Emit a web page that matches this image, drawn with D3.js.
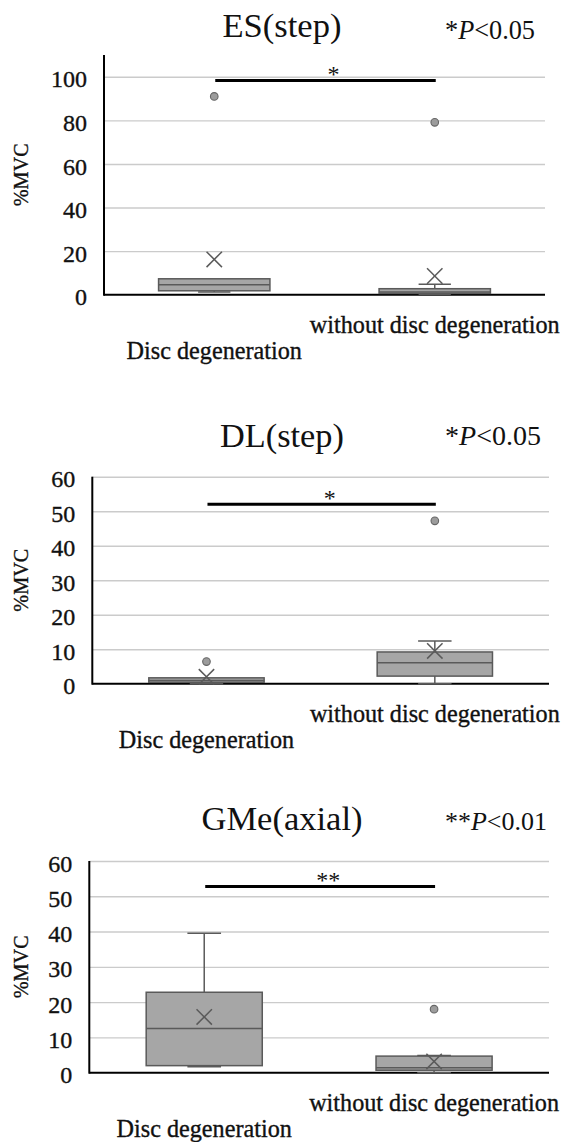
<!DOCTYPE html>
<html>
<head>
<meta charset="utf-8">
<script src="https://cdn.jsdelivr.net/npm/d3@7"></script>
<style>
  html, body { margin: 0; padding: 0; background: #fff; }
  svg { display: block; }
</style>
</head>
<body>
<svg id="chart" width="565" height="1142"></svg>
<script>
// ---------------- DATA ----------------
const categories = ["Disc degeneration", "without disc degeneration"];
const panelTitles = ["ES(step)", "DL(step)", "GMe(axial)"];
const pStars = ["*", "*", "**"];
const pThresholds = ["<0.05", "<0.05", "<0.01"];
const sigMarks = ["*", "*", "**"];
const sigLevels = [98.3, 52, 52.8];
const yMaxes = [110, 60, 60];
const yTicks = [
  [0, 20, 40, 60, 80, 100],
  [0, 10, 20, 30, 40, 50, 60],
  [0, 10, 20, 30, 40, 50, 60]
];
const yLabel = "%MVC";

// box statistics per panel: [Disc degeneration, without disc degeneration]
const mins     = [[1.2, 0.2], [0, 0], [1.7, 0]];
const q1s      = [[1.8, 0.6], [0.4, 2.2], [2.0, 0.7]];
const medians  = [[4.6, 1.2], [0.9, 6.1], [12.5, 1.4]];
const q3s      = [[7.3, 2.75], [1.7, 9.2], [22.8, 4.7]];
const maxs     = [[7.3, 4.8], [1.7, 12.4], [39.5, 4.9]];
const means    = [[16.2, 8.6], [2.0, 9.5], [15.8, 3.2]];
const outliers = [[[91], [79.1]], [[6.4], [47.2]], [[], [18.0]]];

// ---------------- LAYOUT ----------------
const layout = [
  { top: 55,    bottom: 294.7,  left: 104,  right: 545, titleY: 36.5, pY: 39.3, titleW: 119, pW: 90 },
  { top: 476.7, bottom: 683.7,  left: 92.3, right: 549, titleY: 447,  pY: 445,  titleW: 124, pW: 96 },
  { top: 861,   bottom: 1072.7, left: 89.3, right: 549, titleY: 830,  pY: 830,  titleW: 161, pW: 102 }
];
const serif = "'Liberation Serif', 'Times New Roman', 'DejaVu Serif', serif";
const boxFill = "#a6a6a6", boxStroke = "#5a5a5a";

const svg = d3.select("#chart");

// scale a text's font size so that its rendered width matches a target width
function fitWidth(sel, target, base) {
  sel.attr("font-size", base);
  const w = sel.node().getComputedTextLength();
  if (w > 0) sel.attr("font-size", base * target / w);
  return +sel.attr("font-size");
}
const probe = svg.append("text").attr("font-family", serif).attr("font-size", 24).text("100");
const tickSize = fitWidth(probe, 36, 24);
probe.text("without disc degeneration");
const catSize = fitWidth(probe, 250, 24);
probe.text(yLabel);
const ySize = fitWidth(probe, 63, 21);
probe.remove();

layout.forEach((L, pi) => {
  const g = svg.append("g");
  const x = d3.scalePoint().domain(categories).range([L.left, L.right]).padding(0.5);
  const y = d3.scaleLinear().domain([0, yMaxes[pi]]).range([L.bottom, L.top]);
  const boxW = x.step() * 0.505;
  const capW = boxW * 0.29;

  // gridlines
  const grid = d3.axisLeft(y).tickValues(yTicks[pi].filter(v => v > 0))
    .tickSize(-(L.right - L.left)).tickFormat("");
  g.append("g").attr("transform", `translate(${L.left},0)`).call(grid)
    .call(s => s.select(".domain").remove())
    .call(s => s.selectAll("line").attr("stroke", "#cbcbcb").attr("stroke-width", 1.4));

  // tick labels
  const ax = d3.axisLeft(y).tickValues(yTicks[pi]).tickSize(0).tickPadding(17);
  g.append("g").attr("transform", `translate(${L.left},0)`).call(ax)
    .call(s => s.select(".domain").remove())
    .call(s => s.selectAll("text")
      .attr("font-family", serif).attr("font-size", tickSize).attr("fill", "#111")
      .attr("stroke", "#111").attr("stroke-width", 0.35)
      .attr("dy", "0.42em"));

  // axes lines
  g.append("line").attr("x1", L.left).attr("x2", L.left).attr("y1", L.top).attr("y2", L.bottom + 1)
    .attr("stroke", "#000").attr("stroke-width", 2);
  g.append("line").attr("x1", L.left).attr("x2", L.right).attr("y1", L.bottom).attr("y2", L.bottom)
    .attr("stroke", "#000").attr("stroke-width", 2);

  // y label
  g.append("text")
    .attr("transform", `translate(${21},${(L.top + L.bottom) / 2}) rotate(-90)`)
    .attr("text-anchor", "middle").attr("dy", "0.35em")
    .attr("font-family", serif).attr("font-size", ySize).attr("fill", "#111")
    .attr("stroke", "#111").attr("stroke-width", 0.35)
    .text(yLabel);

  // title
  const tt = g.append("text").attr("x", 282).attr("y", L.titleY).attr("text-anchor", "middle")
    .attr("font-family", serif).attr("fill", "#111")
    .text(panelTitles[pi]);
  fitWidth(tt, L.titleW, 34.5);

  // p value note
  const pt = g.append("text").attr("x", 445).attr("y", L.pY)
    .attr("font-family", serif).attr("fill", "#111");
  pt.append("tspan").text(pStars[pi]);
  pt.append("tspan").attr("font-style", "italic").text("P");
  pt.append("tspan").text(pThresholds[pi]);
  fitWidth(pt, L.pW, 26);

  // category labels (staggered)
  categories.forEach((c, ci) => {
    g.append("text").attr("x", x(c)).attr("y", L.bottom + (ci === 0 ? 64.5 : 38))
      .attr("text-anchor", "middle")
      .attr("font-family", serif).attr("font-size", catSize).attr("fill", "#111")
      .attr("stroke", "#111").attr("stroke-width", 0.35)
      .text(c);
  });

  // boxes
  categories.forEach((c, ci) => {
    const cx = x(c);
    const bg = g.append("g");
    const line = (x1, y1, x2, y2) => bg.append("line")
      .attr("x1", x1).attr("y1", y1).attr("x2", x2).attr("y2", y2)
      .attr("stroke", boxStroke).attr("stroke-width", 1.5);
    if (maxs[pi][ci] > q3s[pi][ci]) {
      line(cx, y(q3s[pi][ci]), cx, y(maxs[pi][ci]));
      line(cx - capW / 2, y(maxs[pi][ci]), cx + capW / 2, y(maxs[pi][ci]));
    }
    if (mins[pi][ci] < q1s[pi][ci]) {
      line(cx, y(q1s[pi][ci]), cx, y(mins[pi][ci]));
      line(cx - capW / 2, y(mins[pi][ci]), cx + capW / 2, y(mins[pi][ci]));
    }
    bg.append("rect")
      .attr("x", cx - boxW / 2).attr("width", boxW)
      .attr("y", y(q3s[pi][ci])).attr("height", y(q1s[pi][ci]) - y(q3s[pi][ci]))
      .attr("fill", boxFill).attr("stroke", boxStroke).attr("stroke-width", 1.5);
    line(cx - boxW / 2, y(medians[pi][ci]), cx + boxW / 2, y(medians[pi][ci]));
    const my = y(means[pi][ci]), h = 7.7;
    line(cx - h, my - h, cx + h, my + h);
    line(cx - h, my + h, cx + h, my - h);
    bg.selectAll("circle").data(outliers[pi][ci]).join("circle")
      .attr("cx", cx).attr("cy", d => y(d)).attr("r", 3.8)
      .attr("fill", "#9c9c9c").attr("stroke", "#666").attr("stroke-width", 1.1);
  });

  // significance bar
  const x1 = x(categories[0]), x2 = x(categories[1]);
  g.append("line").attr("x1", x1 + 1).attr("x2", x2 + 1)
    .attr("y1", y(sigLevels[pi])).attr("y2", y(sigLevels[pi]))
    .attr("stroke", "#000").attr("stroke-width", 3);
  g.append("text").attr("x", (x1 + x2) / 2 + 9).attr("y", y(sigLevels[pi]) + 2)
    .attr("text-anchor", "middle")
    .attr("font-family", serif).attr("font-size", 24).attr("fill", "#111")
    .text(sigMarks[pi]);
});
</script>
</body>
</html>
